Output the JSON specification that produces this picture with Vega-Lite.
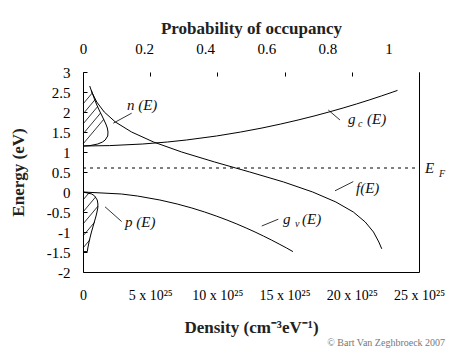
{
  "$schema": "https://vega.github.io/schema/vega-lite/v6.json",
  "width": 336,
  "height": 200,
  "autosize": {"type": "none"},
  "padding": {"left": 83, "top": 72, "right": 43, "bottom": 83},
  "background": "white",
  "config": {
    "view": {"stroke": null},
    "font": "Liberation Serif",
    "text": {"font": "Liberation Serif"},
    "axis": {"labelFont": "Liberation Serif", "titleFont": "Liberation Serif", "labelColor": "#000", "titleColor": "#222", "domainColor": "#000", "tickColor": "#000", "labelOverlap": false, "labelBound": false, "labelFlush": false}
  },
  "title": {"text": "© Bart Van Zeghbroeck 2007", "orient": "bottom", "anchor": "end", "font": "Liberation Serif", "fontSize": 10, "fontWeight": "normal", "color": "#777", "dx": 0, "offset": 3},
  "datasets": {
    "curves": [
      {"s": "gc", "i": 0, "d": 0, "E": 1.15},
      {"s": "gc", "i": 1, "d": 1.99, "E": 1.16},
      {"s": "gc", "i": 2, "d": 4.44, "E": 1.2},
      {"s": "gc", "i": 3, "d": 6.28, "E": 1.25},
      {"s": "gc", "i": 4, "d": 7.69, "E": 1.3},
      {"s": "gc", "i": 5, "d": 9.93, "E": 1.4},
      {"s": "gc", "i": 6, "d": 11.74, "E": 1.5},
      {"s": "gc", "i": 7, "d": 13.32, "E": 1.6},
      {"s": "gc", "i": 8, "d": 14.72, "E": 1.7},
      {"s": "gc", "i": 9, "d": 16.0, "E": 1.8},
      {"s": "gc", "i": 10, "d": 17.19, "E": 1.9},
      {"s": "gc", "i": 11, "d": 18.3, "E": 2.0},
      {"s": "gc", "i": 12, "d": 19.35, "E": 2.1},
      {"s": "gc", "i": 13, "d": 20.34, "E": 2.2},
      {"s": "gc", "i": 14, "d": 21.29, "E": 2.3},
      {"s": "gc", "i": 15, "d": 22.19, "E": 2.4},
      {"s": "gc", "i": 16, "d": 23.06, "E": 2.5},
      {"s": "gc", "i": 17, "d": 23.4, "E": 2.54},
      {"s": "gv", "i": 0, "d": 0, "E": 0},
      {"s": "gv", "i": 1, "d": 2.86, "E": -0.05},
      {"s": "gv", "i": 2, "d": 4.05, "E": -0.1},
      {"s": "gv", "i": 3, "d": 5.72, "E": -0.2},
      {"s": "gv", "i": 4, "d": 7.01, "E": -0.3},
      {"s": "gv", "i": 5, "d": 8.1, "E": -0.4},
      {"s": "gv", "i": 6, "d": 9.05, "E": -0.5},
      {"s": "gv", "i": 7, "d": 9.91, "E": -0.6},
      {"s": "gv", "i": 8, "d": 10.71, "E": -0.7},
      {"s": "gv", "i": 9, "d": 11.45, "E": -0.8},
      {"s": "gv", "i": 10, "d": 12.14, "E": -0.9},
      {"s": "gv", "i": 11, "d": 12.8, "E": -1.0},
      {"s": "gv", "i": 12, "d": 13.42, "E": -1.1},
      {"s": "gv", "i": 13, "d": 14.02, "E": -1.2},
      {"s": "gv", "i": 14, "d": 14.59, "E": -1.3},
      {"s": "gv", "i": 15, "d": 15.15, "E": -1.4},
      {"s": "gv", "i": 16, "d": 15.62, "E": -1.49},
      {"s": "n", "i": 0, "d": 0, "E": 1.15},
      {"s": "n", "i": 1, "d": 0.52, "E": 1.16},
      {"s": "n", "i": 2, "d": 1.1, "E": 1.2},
      {"s": "n", "i": 3, "d": 1.45, "E": 1.25},
      {"s": "n", "i": 4, "d": 1.65, "E": 1.3},
      {"s": "n", "i": 5, "d": 1.84, "E": 1.4},
      {"s": "n", "i": 6, "d": 1.86, "E": 1.5},
      {"s": "n", "i": 7, "d": 1.81, "E": 1.6},
      {"s": "n", "i": 8, "d": 1.7, "E": 1.7},
      {"s": "n", "i": 9, "d": 1.56, "E": 1.8},
      {"s": "n", "i": 10, "d": 1.42, "E": 1.9},
      {"s": "n", "i": 11, "d": 1.27, "E": 2.0},
      {"s": "n", "i": 12, "d": 1.13, "E": 2.1},
      {"s": "n", "i": 13, "d": 1.0, "E": 2.2},
      {"s": "n", "i": 14, "d": 0.88, "E": 2.3},
      {"s": "n", "i": 15, "d": 0.77, "E": 2.4},
      {"s": "n", "i": 16, "d": 0.66, "E": 2.5},
      {"s": "n", "i": 17, "d": 0.63, "E": 2.54},
      {"s": "p", "i": 0, "d": 0, "E": 0},
      {"s": "p", "i": 1, "d": 0.66, "E": -0.05},
      {"s": "p", "i": 2, "d": 0.87, "E": -0.1},
      {"s": "p", "i": 3, "d": 1.06, "E": -0.2},
      {"s": "p", "i": 4, "d": 1.11, "E": -0.3},
      {"s": "p", "i": 5, "d": 1.1, "E": -0.4},
      {"s": "p", "i": 6, "d": 1.04, "E": -0.5},
      {"s": "p", "i": 7, "d": 0.97, "E": -0.6},
      {"s": "p", "i": 8, "d": 0.8, "E": -0.8},
      {"s": "p", "i": 9, "d": 0.63, "E": -1.0},
      {"s": "p", "i": 10, "d": 0.48, "E": -1.2},
      {"s": "p", "i": 11, "d": 0.36, "E": -1.4},
      {"s": "p", "i": 12, "d": 0.32, "E": -1.49},
      {"s": "p", "i": 13, "d": 0, "E": -1.49}
    ],
    "segments": [
      {"kind": "hatch", "d": 0, "E": 1.2, "d2": 1.54, "E2": 1.815},
      {"kind": "hatch", "d": 0, "E": 1.45, "d2": 1.31, "E2": 1.975},
      {"kind": "hatch", "d": 0, "E": 1.7, "d2": 1.085, "E2": 2.134},
      {"kind": "hatch", "d": 0, "E": 1.95, "d2": 0.88, "E2": 2.302},
      {"kind": "hatch", "d": 0, "E": 2.2, "d2": 0.69, "E2": 2.476},
      {"kind": "hatch", "d": 0, "E": -0.2, "d2": 0.44, "E2": -0.024},
      {"kind": "hatch", "d": 0, "E": -0.5, "d2": 0.93, "E2": -0.128},
      {"kind": "hatch", "d": 0, "E": -0.8, "d2": 1.12, "E2": -0.352},
      {"kind": "hatch", "d": 0, "E": -1.1, "d2": 0.86, "E2": -0.756},
      {"kind": "hatch", "d": 0, "E": -1.4, "d2": 0.51, "E2": -1.196},
      {"kind": "leader", "d": 2.25, "E": 1.72, "d2": 3.62, "E2": 1.97},
      {"kind": "leader", "d": 1.64, "E": -0.37, "d2": 2.88, "E2": -0.74},
      {"kind": "leader", "d": 18.25, "E": 2.05, "d2": 19.12, "E2": 1.8},
      {"kind": "leader", "d": 18.75, "E": 0.03, "d2": 20.11, "E2": 0.26},
      {"kind": "leader", "d": 13.3, "E": -0.85, "d2": 14.53, "E2": -0.68}
    ],
    "fermi": [{"d": 0, "d2": 25, "E": 0.6}],
    "labels": [
      {"t": "n (E)", "d": 3.27, "E": 2.175},
      {"t": "p (E)", "d": 3.125, "E": -0.74},
      {"t": "g", "d": 19.72, "E": 1.825},
      {"t": "(E)", "d": 21.13, "E": 1.825},
      {"t": "f(E)", "d": 20.31, "E": 0.1},
      {"t": "E", "d": 25.45, "E": 0.6},
      {"t": "g", "d": 14.88, "E": -0.675},
      {"t": "(E)", "d": 16.3, "E": -0.675}
    ],
    "subs": [
      {"t": "c", "d": 20.46, "E": 1.7},
      {"t": "F", "d": 26.49, "E": 0.45},
      {"t": "v", "d": 15.77, "E": -0.8}
    ],
    "occupancy": [
      {"i": 0, "p": 0.022, "E": 2.65},
      {"i": 1, "p": 0.0288, "E": 2.5},
      {"i": 2, "p": 0.045, "E": 2.25},
      {"i": 3, "p": 0.0696, "E": 2.0},
      {"i": 4, "p": 0.106, "E": 1.75},
      {"i": 5, "p": 0.159, "E": 1.5},
      {"i": 6, "p": 0.231, "E": 1.25},
      {"i": 7, "p": 0.323, "E": 1.0},
      {"i": 8, "p": 0.431, "E": 0.75},
      {"i": 9, "p": 0.5, "E": 0.6},
      {"i": 10, "p": 0.546, "E": 0.5},
      {"i": 11, "p": 0.657, "E": 0.25},
      {"i": 12, "p": 0.752, "E": 0.0},
      {"i": 13, "p": 0.828, "E": -0.25},
      {"i": 14, "p": 0.885, "E": -0.5},
      {"i": 15, "p": 0.924, "E": -0.75},
      {"i": 16, "p": 0.951, "E": -1.0},
      {"i": 17, "p": 0.9685, "E": -1.25},
      {"i": 18, "p": 0.978, "E": -1.42}
    ]
  },
  "layer": [
    {
      "encoding": {
        "x": {"field": "d", "type": "quantitative", "scale": {"domain": [0, 25], "nice": false},
          "axis": {"orient": "bottom", "values": [0, 5, 10, 15, 20, 25], "labelExpr": "datum.value == 0 ? '0' : datum.value + ' x 10²⁵'", "labelFontSize": 14, "labelOverlap": false, "labelFlush": false, "ticks": false, "grid": true, "gridColor": "#000", "gridOpacity": 1, "gridWidth": 1, "gridDash": [4, 1000], "labelPadding": 16, "domainWidth": 1, "title": "Density (cm⁻³eV⁻¹)", "titleFontSize": 17, "titleFontWeight": "bold", "titlePadding": 17}},
        "y": {"field": "E", "type": "quantitative", "scale": {"domain": [-2, 3], "nice": false, "zero": false},
          "axis": {"orient": "left", "values": [-2, -1.5, -1, -0.5, 0, 0.5, 1, 1.5, 2, 2.5, 3], "labelExpr": "'' + datum.value", "labelFontSize": 15, "labelOverlap": false, "labelFlush": false, "ticks": false, "grid": true, "gridColor": "#000", "gridOpacity": 1, "gridWidth": 1, "gridDash": [4, 1000], "labelPadding": 13, "title": "Energy (eV)", "titleFontSize": 17, "titleFontWeight": "bold", "titlePadding": 19}}
      },
      "layer": [
        {
          "data": {"name": "curves"},
          "mark": {"type": "line", "color": "#000", "strokeWidth": 1, "clip": false},
          "encoding": {
            "detail": {"field": "s"},
            "order": {"field": "i", "type": "quantitative"}
          }
        },
        {
          "data": {"name": "segments"},
          "mark": {"type": "rule", "color": "#000", "strokeWidth": 0.8},
          "encoding": {
            "x2": {"field": "d2"},
            "y2": {"field": "E2"}
          }
        },
        {
          "data": {"name": "fermi"},
          "mark": {"type": "rule", "color": "#000", "strokeWidth": 1, "strokeDash": [3, 4]},
          "encoding": {"x2": {"field": "d2"}}
        },
        {
          "data": {"name": "labels"},
          "mark": {"type": "text", "font": "Liberation Serif", "fontStyle": "italic", "fontSize": 15, "align": "left", "baseline": "middle", "color": "#111"},
          "encoding": {"text": {"field": "t"}}
        },
        {
          "data": {"name": "subs"},
          "mark": {"type": "text", "font": "Liberation Serif", "fontStyle": "italic", "fontSize": 10, "align": "left", "baseline": "middle", "color": "#111"},
          "encoding": {"text": {"field": "t"}}
        }
      ]
    },
    {
      "data": {"name": "occupancy"},
      "mark": {"type": "line", "color": "#000", "strokeWidth": 1},
      "encoding": {
        "x": {"field": "p", "type": "quantitative", "scale": {"domain": [0, 1.1], "nice": false},
          "axis": {"orient": "top", "values": [0, 0.2, 0.4, 0.6, 0.8, 1], "labelExpr": "'' + datum.value", "labelFontSize": 15, "labelOverlap": false, "labelFlush": false, "grid": false, "domain": false, "ticks": false, "labelPadding": 16, "title": "Probability of occupancy", "titleFontSize": 17, "titleFontWeight": "bold", "titlePadding": 4}},
        "y": {"field": "E", "type": "quantitative",
          "axis": {"orient": "right", "labels": false, "ticks": false, "grid": false, "domain": true, "title": null}},
        "order": {"field": "i", "type": "quantitative"}
      }
    }
  ],
  "resolve": {"scale": {"x": "independent"}, "axis": {"x": "independent", "y": "independent"}}
}
